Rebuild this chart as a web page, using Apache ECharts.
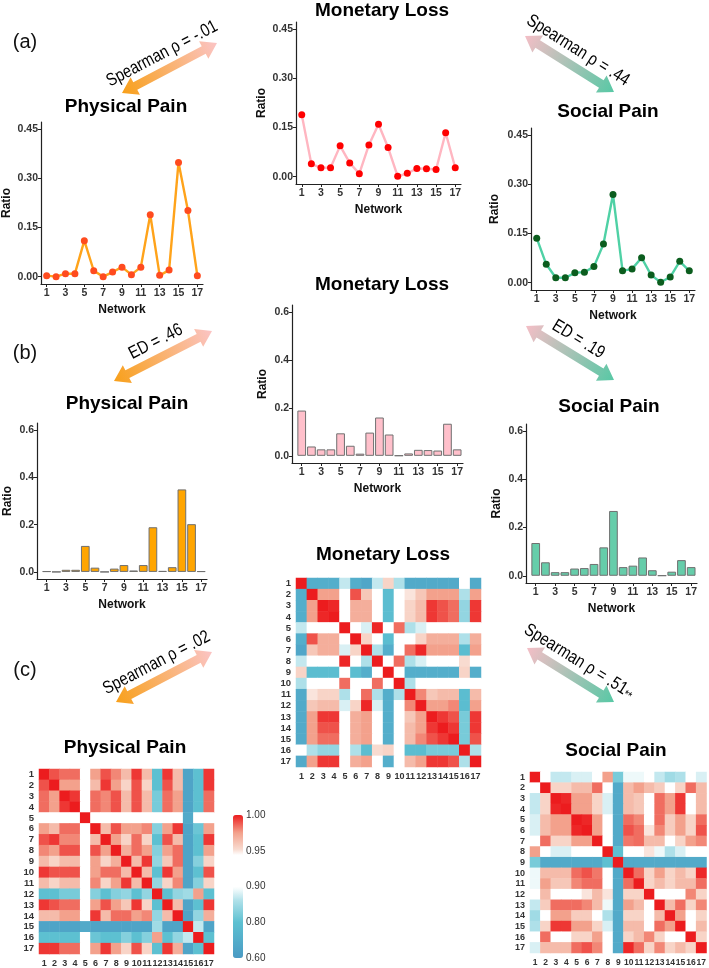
<!DOCTYPE html>
<html><head><meta charset="utf-8">
<script src="https://cdn.jsdelivr.net/npm/echarts@6/dist/echarts.min.js"></script>
<style>html,body{margin:0;padding:0;background:#fff}#c{width:709px;height:968px}</style>
</head><body><div id="c"></div>
<script>
// ---------------- DATA ----------------
const networks = [1,2,3,4,5,6,7,8,9,10,11,12,13,14,15,16,17];
const physicalRatio = [0.003,0.000,0.009,0.009,0.110,0.018,0.000,0.014,0.029,0.006,0.029,0.189,0.004,0.020,0.349,0.202,0.003];
const monetaryRatio = [0.189,0.039,0.027,0.027,0.094,0.042,0.009,0.097,0.160,0.089,0.001,0.010,0.025,0.024,0.022,0.134,0.027];
const socialRatio   = [0.136,0.056,0.015,0.015,0.030,0.032,0.049,0.118,0.269,0.036,0.042,0.076,0.023,0.001,0.017,0.065,0.036];
const xTickValues = [1,3,5,7,9,11,13,15,17];
const lineYTicks = [0,0.15,0.30,0.45];
const barYTicks = [0,0.2,0.4,0.6];
const colorBreaks = [0.60,0.80,0.90,0.95,1.00];
const panelLabels = ['(a)','(b)','(c)'];
const comparisonLabels = ['Spearman \u03c1 = -.01','Spearman \u03c1 = .44','ED = .46','ED = .19','Spearman \u03c1 = .02','Spearman \u03c1 = .51'];
const chartTitles = ['Monetary Loss','Physical Pain','Social Pain','Physical Pain','Monetary Loss','Social Pain','Monetary Loss','Physical Pain','Social Pain'];

// correlation matrices: upper triangle, row i holds columns i+1..17
const physicalUpper = [
 [.99,.985,.985,.92,.975,.99,.98,.965,.995,.965,.80,.995,.965,.65,.80,.995],
 [.975,.975,.92,.965,.995,.975,.955,.99,.955,.80,.99,.965,.65,.80,.995],
 [.995,.92,.985,.98,.99,.965,.99,.965,.82,.985,.975,.65,.80,.985],
 [.92,.985,.98,.99,.965,.99,.965,.82,.985,.975,.65,.80,.985],
 [.92,.92,.92,.92,.92,.92,.92,.92,.92,.68,.92,.92],
 [.965,.99,.975,.975,.98,.83,.975,.995,.65,.81,.975],
 [.975,.955,.985,.955,.80,.99,.965,.65,.80,.995],
 [.97,.985,.975,.83,.975,.985,.65,.80,.975],
 [.965,.995,.84,.96,.985,.65,.83,.955],
 [.965,.80,.995,.975,.65,.80,.99],
 [.84,.955,.98,.65,.83,.955],
 [.80,.84,.85,.975,.80],
 [.965,.65,.80,.995],
 [.65,.84,.97],
 [.87,.65],
 [.80]
];
const monetaryUpper = [
 [.70,.70,.70,.87,.70,.66,.87,.955,.86,.68,.68,.68,.68,.68,.92,.68],
 [.975,.975,.92,.99,.96,.92,.78,.92,.95,.96,.975,.975,.975,.86,.975],
 [.998,.92,.97,.97,.92,.78,.92,.955,.965,.995,.99,.985,.84,.995],
 [.92,.97,.97,.92,.78,.92,.955,.965,.995,.99,.985,.84,.995],
 [.92,.88,.998,.92,.985,.86,.88,.92,.92,.92,.92,.92],
 [.955,.92,.78,.92,.92,.955,.97,.97,.97,.86,.97],
 [.86,.70,.92,.985,.998,.975,.975,.975,.78,.975],
 [.92,.985,.86,.88,.92,.92,.92,.952,.92],
 [.92,.70,.70,.70,.70,.70,.955,.70],
 [.86,.92,.92,.92,.92,.92,.92],
 [.98,.96,.965,.965,.78,.965],
 [.975,.975,.98,.78,.975],
 [.995,.99,.82,.995],
 [.995,.82,.995],
 [.82,.99],
 [.86]
];
const socialUpper = [
 [.92,.87,.87,.88,.88,.92,.975,.82,.89,.89,.92,.87,.85,.86,.92,.88],
 [.955,.955,.965,.965,.985,.92,.68,.965,.975,.965,.958,.92,.955,.985,.965],
 [.998,.975,.975,.955,.88,.68,.965,.96,.92,.985,.975,.995,.92,.965],
 [.975,.975,.955,.88,.68,.965,.96,.92,.985,.975,.995,.92,.965],
 [.998,.975,.92,.68,.985,.98,.92,.985,.958,.975,.955,.985],
 [.975,.92,.68,.99,.985,.95,.98,.958,.975,.955,.99],
 [.92,.68,.983,.985,.965,.965,.92,.955,.975,.98],
 [.80,.92,.92,.95,.89,.86,.88,.92,.92],
 [.68,.68,.68,.68,.68,.68,.68,.68],
 [.985,.955,.975,.955,.965,.955,.998],
 [.955,.965,.955,.965,.965,.985],
 [.92,.92,.92,.98,.955],
 [.965,.985,.955,.98],
 [.975,.92,.955],
 [.92,.965],
 [.955]
];

// ---------------- HELPERS ----------------
const FONT = "'Liberation Sans', Arial, sans-serif";

function toT(r){ // piecewise position on the colour bar
  if (r <= colorBreaks[0]) return 0;
  for (let i=1;i<colorBreaks.length;i++){
    if (r <= colorBreaks[i]) return (i-1 + (r-colorBreaks[i-1])/(colorBreaks[i]-colorBreaks[i-1]))/(colorBreaks.length-1);
  }
  return 1;
}
function heatData(upper){
  const n = networks.length, M = [];
  for (let i=0;i<n;i++){ M.push(new Array(n).fill(1)); }
  upper.forEach((row,i)=>row.forEach((v,k)=>{ const j=i+1+k; M[i][j]=v; M[j][i]=v; }));
  const out=[];
  for (let i=0;i<n;i++) for (let j=0;j<n;j++) out.push([j,i,toT(M[i][j]),M[i][j]]);
  return out;
}
const colorStops = [[0,'#4A9BC4'],[0.25,'#5DC0D1'],[0.4,'#AEE0E9'],[0.48,'#F2FAFB'],[0.5,'#FFFFFF'],[0.72,'#FFFFFF'],[0.76,'#F8DBD0'],[0.875,'#F3A28C'],[1,'#EC1C1E']];
function hex2rgb(h){return [1,3,5].map(i=>parseInt(h.substr(i,2),16));}
function sampleColor(t){
  for (let i=1;i<colorStops.length;i++){
    if (t<=colorStops[i][0]){
      const [t0,c0]=colorStops[i-1],[t1,c1]=colorStops[i];
      const f=(t-t0)/(t1-t0), a=hex2rgb(c0), b=hex2rgb(c1);
      return 'rgb('+a.map((v,k)=>Math.round(v+(b[k]-v)*f)).join(',')+')';
    }
  }
  return colorStops[colorStops.length-1][1];
}
const palette = []; for (let k=0;k<=100;k++) palette.push(sampleColor(k/100));

const axisLine = {show:true,onZero:false,lineStyle:{color:'#222',width:1.2}};
const tickLbl = {color:'#333',fontWeight:'bold',fontSize:10.5,fontFamily:FONT};
const nameStyle = {color:'#111',fontWeight:'bold',fontSize:12,fontFamily:FONT};

function xNum(gi,min,max){
  return {type:'value',gridIndex:gi,min:min,max:max,axisLine:axisLine,
    axisTick:{show:true,length:3,customValues:xTickValues,lineStyle:{color:'#222'}},
    axisLabel:Object.assign({customValues:xTickValues,margin:4},tickLbl),
    splitLine:{show:false},name:'Network',nameLocation:'middle',nameGap:20,nameTextStyle:nameStyle};
}
function yNum(gi,min,max,ticks,dec,gap){
  return {type:'value',gridIndex:gi,min:min,max:max,axisLine:axisLine,
    axisTick:{show:true,length:3,customValues:ticks,lineStyle:{color:'#222'}},
    axisLabel:Object.assign({customValues:ticks,margin:3,formatter:v=>Number(v).toFixed(dec)},tickLbl),
    splitLine:{show:false},name:'Ratio',nameLocation:'middle',nameRotate:90,nameGap:gap,nameTextStyle:nameStyle};
}
function catAxis(gi,isY,fs){
  return {type:'category',gridIndex:gi,data:networks.map(String),inverse:!!isY,
    axisLine:{show:false},axisTick:{show:false},splitLine:{show:false},
    axisLabel:{interval:0,fontSize:fs,fontWeight:'bold',color:'#333',fontFamily:FONT,margin:5}};
}

// ---------------- LAYOUT ----------------
const grids = [
 {left:38, top:122, width:165, height:162},
 {left:296,top:22,  width:165, height:162},
 {left:531,top:128, width:164, height:162},
 {left:37, top:423, width:170, height:156},
 {left:292,top:305, width:171, height:158},
 {left:526,top:424, width:171, height:159},
 {left:296,top:578, width:185, height:189},
 {left:39, top:769, width:175, height:188},
 {left:530,top:772, width:178, height:181},
 {left:233,top:815, width:10,  height:143}
];
const xAxes = [
 xNum(0,0.4,17.6), xNum(1,0.4,17.6), xNum(2,0.4,17.6),
 xNum(3,0,17.6), xNum(4,0,17.6), xNum(5,0,17.6),
 catAxis(6,false,9), catAxis(7,false,9), catAxis(8,false,8.5),
 {type:'value',gridIndex:9,show:false,min:0,max:1}
];
const yAxes = [
 yNum(0,-0.0225,0.4725,lineYTicks,2,28), yNum(1,-0.0225,0.4725,lineYTicks,2,28), yNum(2,-0.0225,0.4725,lineYTicks,2,30),
 yNum(3,-0.03,0.63,barYTicks,1,23), yNum(4,-0.03,0.63,barYTicks,1,23), yNum(5,-0.03,0.63,barYTicks,1,23),
 catAxis(6,true,9.5), catAxis(7,true,9.5), catAxis(8,true,9),
 {type:'value',gridIndex:9,min:0,max:1,position:'right',axisLine:{show:false},axisTick:{show:false},splitLine:{show:false},
  axisLabel:{customValues:[0,0.25,0.5,0.75,1],formatter:v=>colorBreaks[Math.round(v*4)].toFixed(2),fontSize:10,color:'#333',fontFamily:FONT,margin:3}}
];

function lineSeries(i,vals,lc,pc){
  return {type:'line',xAxisIndex:i,yAxisIndex:i,data:networks.map((n,k)=>[n,vals[k]]),
    symbol:'circle',symbolSize:7,lineStyle:{color:lc,width:2.4},itemStyle:{color:pc},z:3};
}
function barSeries(i,vals,fc){
  return {type:'bar',xAxisIndex:i,yAxisIndex:i,data:networks.map((n,k)=>[n,vals[k]]),
    barWidth:8.7,itemStyle:{color:fc,borderColor:'#707070',borderWidth:1}};
}
function heatSeries(i,upper){
  return {type:'heatmap',xAxisIndex:i,yAxisIndex:i,data:heatData(upper),itemStyle:{borderWidth:0}};
}

// ---------------- DECORATION ----------------
const titlePos = [[382,11],[126,107],[608,112],[127,404],[382,285],[609,407],[383,555],[125,748],[616,751]];
const panelPos = [[25,42],[25,353],[25,670]];
const arrows = [
 {a:[122,93], b:[217,43], c0:'#F8A01A', c1:'#FBC4C4'},
 {a:[525,36], b:[614,92], c0:'#F4BEC6', c1:'#58C8A5'},
 {a:[114,381],b:[212,331],c0:'#F8A01A', c1:'#FBC4C4'},
 {a:[526,326],b:[614,380],c0:'#F4BEC6', c1:'#58C8A5'},
 {a:[116,702],b:[212,652],c0:'#F8A01A', c1:'#FBC4C4'},
 {a:[527,648],b:[614,702],c0:'#F4BEC6', c1:'#58C8A5'}
];
function arrowPoly(a,b){
  const dx=b[0]-a[0], dy=b[1]-a[1], L=Math.hypot(dx,dy), ux=dx/L, uy=dy/L, nx=-uy, ny=ux;
  const hl=15, hw=10, sw=4.3;
  const P=(p,u,n)=>[p[0]+ux*u+nx*n, p[1]+uy*u+ny*n];
  return [a, P(a,hl,hw), P(a,hl,sw), P(b,-hl,sw), P(b,-hl,hw), b, P(b,-hl,-hw), P(b,-hl,-sw), P(a,hl,-sw), P(a,hl,-hw)];
}
const graphics = [];
chartTitles.forEach((t,i)=>graphics.push({type:'text',x:titlePos[i][0],y:titlePos[i][1],z:100,
  style:{text:t,fill:'#000',fontSize:19,fontWeight:'bold',fontFamily:FONT,align:'center',verticalAlign:'middle',textAlign:'center',textVerticalAlign:'middle'}}));
panelLabels.forEach((t,i)=>graphics.push({type:'text',x:panelPos[i][0],y:panelPos[i][1],z:100,
  style:{text:t,fill:'#111',fontSize:20,fontFamily:FONT,align:'center',verticalAlign:'middle',textAlign:'center',textVerticalAlign:'middle'}}));
arrows.forEach((ar,i)=>{
  graphics.push({type:'polygon',z:90,shape:{points:arrowPoly(ar.a,ar.b)},
    style:{fill:new echarts.graphic.LinearGradient(ar.a[0],ar.a[1],ar.b[0],ar.b[1],[{offset:0,color:ar.c0},{offset:1,color:ar.c1}],true)}});
  const dx=ar.b[0]-ar.a[0], dy=ar.b[1]-ar.a[1], L=Math.hypot(dx,dy);
  const nx=dy/L, ny=-dx/L, off=16;
  const cx=(ar.a[0]+ar.b[0])/2+nx*off, cy=(ar.a[1]+ar.b[1])/2+ny*off;
  const star = i===5;
  graphics.push({type:'group',x:cx,y:cy,rotation:-Math.atan2(dy,dx),z:100,children:[
    {type:'text',x:0,y:0,scaleX:0.82,scaleY:1,z:100,
     style:{text: star ? '{m|'+comparisonLabels[i]+'}{s|**}' : comparisonLabels[i],
      rich: star ? {m:{fontSize:18,fontFamily:FONT,fill:'#000'}, s:{fontSize:12,fontFamily:FONT,fill:'#000',padding:[7,0,0,0]}} : undefined,
      fill:'#000',fontSize:18,fontFamily:FONT,align:'center',verticalAlign:'middle',textAlign:'center',textVerticalAlign:'middle'}}
  ]});
});

const option = {
  animation:false,
  backgroundColor:'#fff',
  grid:grids,
  xAxis:xAxes,
  yAxis:yAxes,
  visualMap:[{type:'continuous',min:0,max:1,dimension:2,seriesIndex:[6,7,8],inRange:{color:palette},
    orient:'vertical',left:233,top:815,itemWidth:10,itemHeight:143,calculable:false,padding:0,hoverLink:false,show:true}],
  series:[
    lineSeries(0,physicalRatio,'#FFA31A','#FF4B1F'),
    lineSeries(1,monetaryRatio,'#FFB6C1','#FF0000'),
    lineSeries(2,socialRatio,'#4FD1A5','#0B5D1E'),
    barSeries(3,physicalRatio,'#FFA500'),
    barSeries(4,monetaryRatio,'#FFC0CB'),
    barSeries(5,socialRatio,'#66CDAA'),
    heatSeries(6,monetaryUpper),
    heatSeries(7,physicalUpper),
    heatSeries(8,socialUpper),
    {type:'scatter',xAxisIndex:9,yAxisIndex:9,data:[]}
  ],
  graphic:{elements:graphics}
};
const chart = echarts.init(document.getElementById('c'),null,{renderer:'canvas'});
chart.setOption(option);
</script></body></html>
